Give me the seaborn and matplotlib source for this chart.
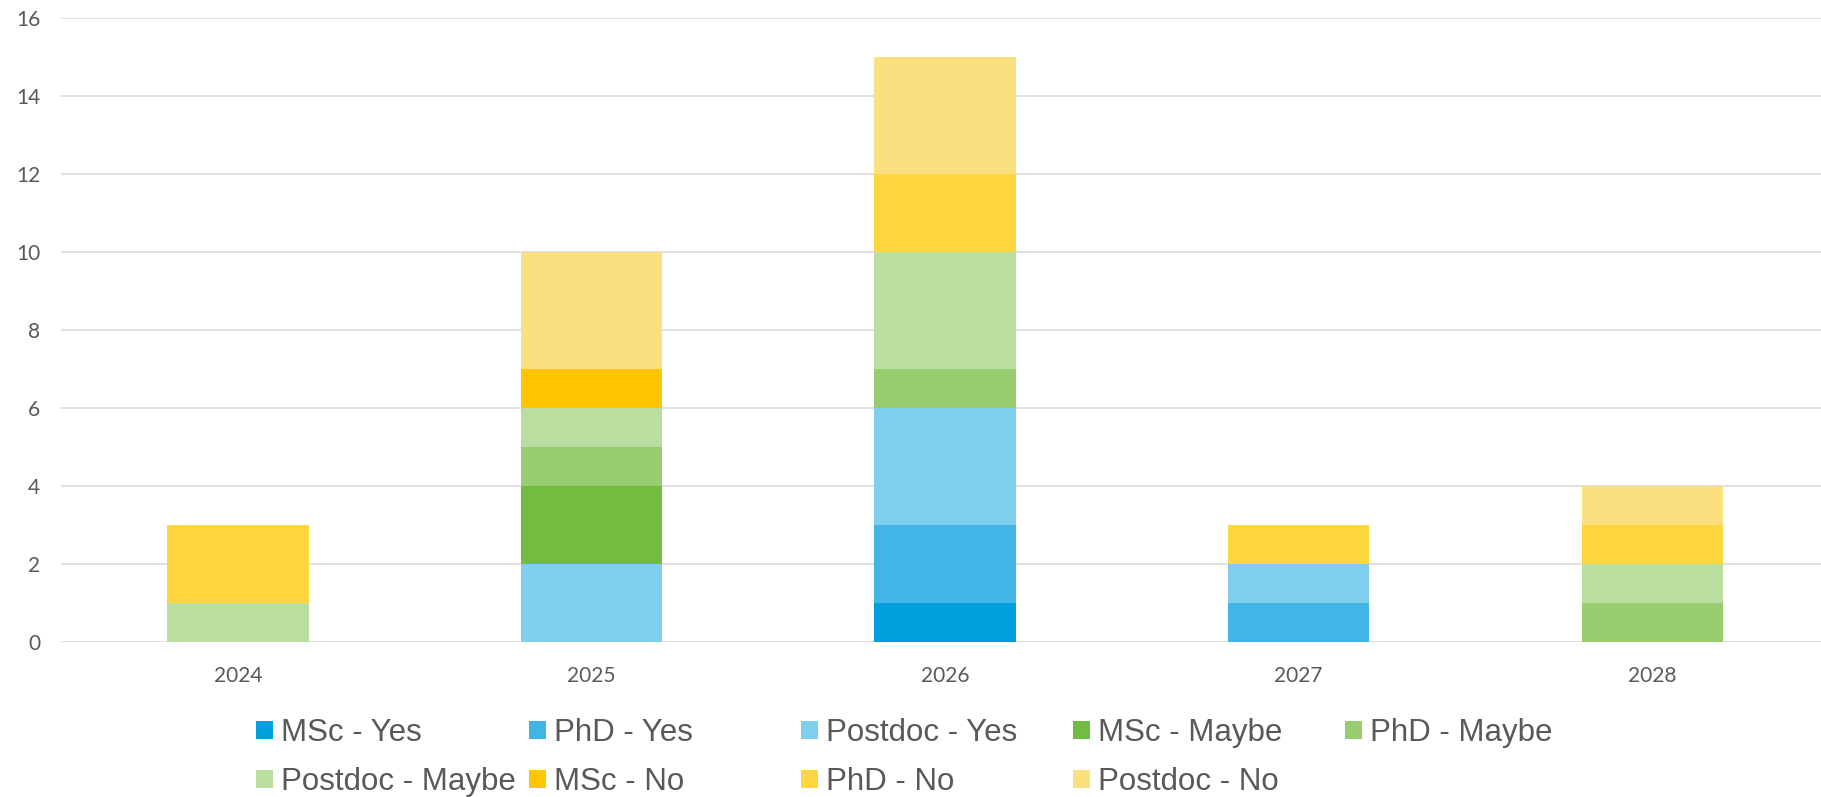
import matplotlib
matplotlib.use("Agg")
import matplotlib.pyplot as plt
import numpy as np
import pandas as pd
import seaborn as sns

years = ["2024", "2025", "2026", "2027", "2028"]

series_names = [
    "MSc - Yes", "PhD - Yes", "Postdoc - Yes",
    "MSc - Maybe", "PhD - Maybe", "Postdoc - Maybe",
    "MSc - No", "PhD - No", "Postdoc - No",
]
msc_yes = [0, 0, 1, 0, 0]
phd_yes = [0, 0, 2, 1, 0]
postdoc_yes = [0, 2, 3, 1, 0]
msc_maybe = [0, 2, 0, 0, 0]
phd_maybe = [0, 1, 1, 0, 1]
postdoc_maybe = [1, 1, 3, 0, 1]
msc_no = [0, 1, 0, 0, 0]
phd_no = [2, 0, 2, 1, 1]
postdoc_no = [0, 3, 3, 0, 1]

series_values = [msc_yes, phd_yes, postdoc_yes, msc_maybe, phd_maybe,
                 postdoc_maybe, msc_no, phd_no, postdoc_no]
colors = ["#00A0DE", "#41B6E6", "#80CEEE", "#72BC40", "#97CC70",
          "#BADDA0", "#FFC600", "#FDD640", "#FBE080"]

y_ticks = [0, 2, 4, 6, 8, 10, 12, 14, 16]

sns.set_theme(style="white")
plt.rcParams["font.family"] = ["Lato", "DejaVu Sans"]

W, H = 1821, 797
fig = plt.figure(figsize=(W / 100, H / 100), dpi=100)
ax = fig.add_axes([61 / W, (H - 641.5) / H, (W - 61) / W, (641.5 - 17.5) / H])

bottom = np.zeros(len(years))
for name, vals, col in zip(series_names, series_values, colors):
    df = pd.DataFrame({"year": years, "count": vals})
    sns.barplot(data=df, x="year", y="count", order=years, color=col,
                bottom=bottom, width=0.4, label=name, ax=ax,
                saturation=1, linewidth=0, zorder=2)
    bottom = bottom + np.array(vals, dtype=float)

ax.set_xlim(-0.5, 4.477)
ax.set_ylim(0, 16)
ax.set_yticks(y_ticks)
ax.yaxis.grid(True, color="#D9D9D9", linewidth=1.1, zorder=0)
ax.set_axisbelow(True)
for s in ax.spines.values():
    s.set_visible(False)
ax.set_xlabel("")
ax.set_ylabel("")
ax.tick_params(axis="y", length=0, pad=15, labelsize=15, labelcolor="#595959")
ax.tick_params(axis="x", length=0, pad=17.5, labelsize=15, labelcolor="#595959")
if ax.get_legend() is not None:
    ax.get_legend().remove()

# legend: Excel-like fixed-width columns, filled row by row
handles, labels = ax.get_legend_handles_labels()
col_x = [256, 529, 801, 1073, 1345]
for c, x0 in enumerate(col_x):
    idx = [i for i in (c, c + 5) if i < len(handles)]
    fig.legend([handles[i] for i in idx], [labels[i] for i in idx],
               loc="upper left", bbox_to_anchor=(x0 / W, (H - 718) / H),
               frameon=False, borderpad=0, borderaxespad=0,
               handlelength=0.54, handleheight=0.54, handletextpad=0.26,
               labelspacing=0.61,
               prop={"family": ["Liberation Sans", "DejaVu Sans"], "size": 22.5},
               labelcolor="#595959")

fig.savefig("out.png", dpi=100)
